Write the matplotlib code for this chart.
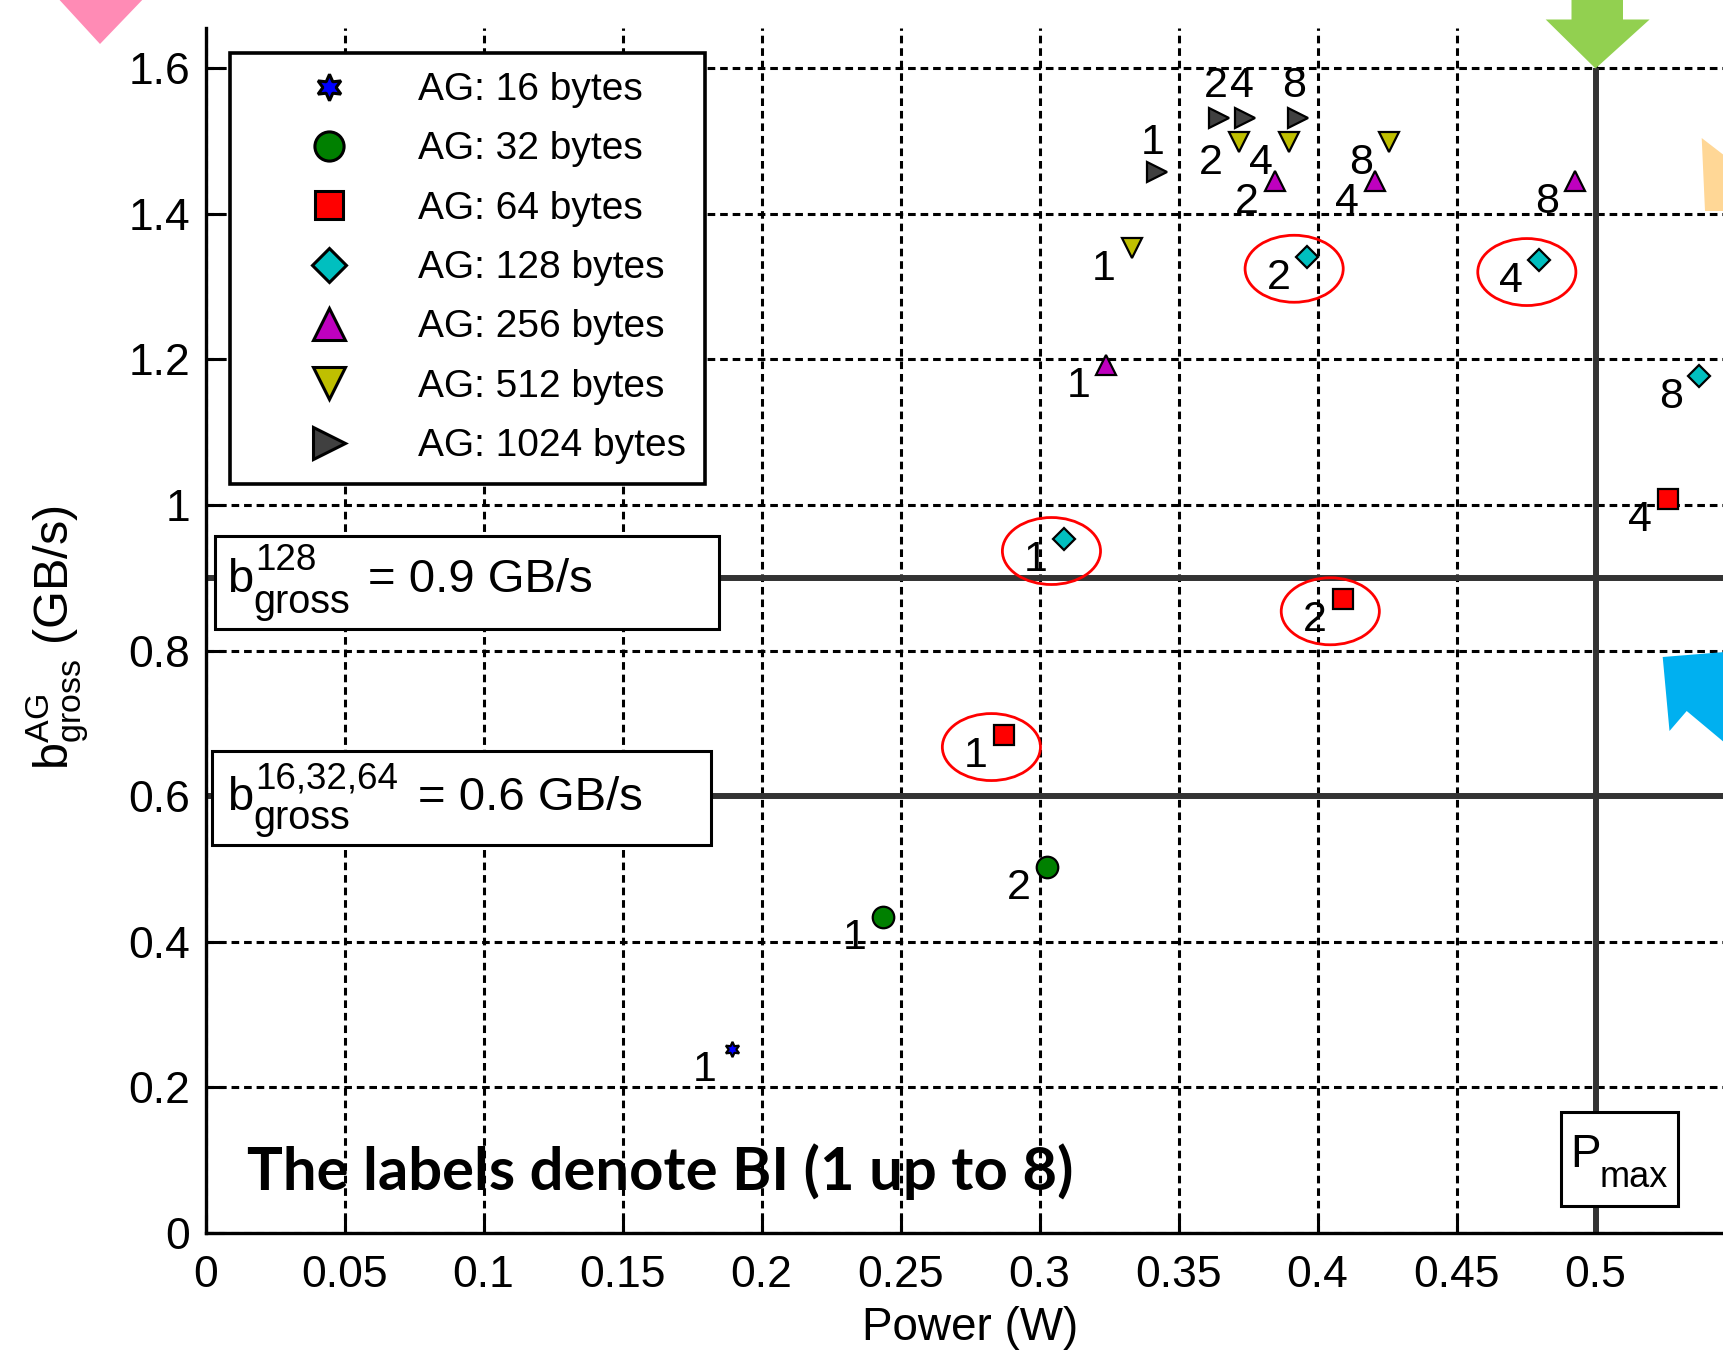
import matplotlib
matplotlib.use('Agg')
import matplotlib.pyplot as plt
from matplotlib.lines import Line2D
from matplotlib.patches import Rectangle, Ellipse, Polygon
import numpy as np

# ---------------- data ----------------
series_names = ['AG: 16 bytes', 'AG: 32 bytes', 'AG: 64 bytes', 'AG: 128 bytes',
                'AG: 256 bytes', 'AG: 512 bytes', 'AG: 1024 bytes']

ag16_power = [0.1895]
ag16_bw = [0.2523]
ag16_bi = [1]

ag32_power = [0.2436, 0.3026]
ag32_bw = [0.4336, 0.5023]
ag32_bi = [1, 2]

ag64_power = [0.2872, 0.4091, 0.5260]
ag64_bw = [0.684, 0.8705, 1.008]
ag64_bi = [1, 2, 4]

ag128_power = [0.3088, 0.3961, 0.4798, 0.5373]
ag128_bw = [0.9533, 1.341, 1.3365, 1.177]
ag128_bi = [1, 2, 4, 8]

ag256_power = [0.3241, 0.3848, 0.4207, 0.4925]
ag256_bw = [1.1925, 1.4446, 1.4446, 1.4446]
ag256_bi = [1, 2, 4, 8]

ag512_power = [0.3331, 0.3717, 0.3898, 0.4257]
ag512_bw = [1.3526, 1.499, 1.499, 1.499]
ag512_bi = [1, 2, 4, 8]

ag1024_power = [0.3424, 0.3647, 0.3741, 0.3930]
ag1024_bw = [1.458, 1.531, 1.531, 1.531]
ag1024_bi = [1, 2, 4, 8]

# highlighted (series index, BI) pairs, circled in red
highlighted = [(3, 1), (3, 2), (3, 4), (2, 1), (2, 2)]

b128_threshold = 0.9
b_small_threshold = 0.6
p_max = 0.5

x_ticks = [0, 0.05, 0.1, 0.15, 0.2, 0.25, 0.3, 0.35, 0.4, 0.45, 0.5]
x_tick_labels = ['0', '0.05', '0.1', '0.15', '0.2', '0.25', '0.3', '0.35', '0.4', '0.45', '0.5']
y_ticks = [0, 0.2, 0.4, 0.6, 0.8, 1.0, 1.2, 1.4, 1.6]
y_tick_labels = ['0', '0.2', '0.4', '0.6', '0.8', '1', '1.2', '1.4', '1.6']

# ---------------- style ----------------
plt.rcParams['font.family'] = ['Liberation Sans', 'DejaVu Sans']
plt.rcParams['mathtext.fontset'] = 'custom'
plt.rcParams['mathtext.rm'] = 'Liberation Sans'
plt.rcParams['mathtext.it'] = 'Liberation Sans'
plt.rcParams['mathtext.bf'] = 'Liberation Sans:bold'

W, H = 1723, 1355
fig = plt.figure(figsize=(W / 100, H / 100), dpi=100)
PT = 0.72  # points per pixel at dpi 100

def fx(px):
    return px / W

def fy(py):
    return 1 - py / H

X0, Y0 = 205.5, 1233.0
PX_PER_X, PX_PER_Y = 2780.0, 728.0
xlim = (0, 0.55)
ylim = (0, 1.655)
ax = fig.add_axes([fx(X0), fy(Y0), xlim[1] * PX_PER_X / W, ylim[1] * PX_PER_Y / H])
ax.set_xlim(*xlim)
ax.set_ylim(*ylim)

ax.set_xticks(x_ticks)
ax.set_xticklabels(x_tick_labels)
ax.set_yticks(y_ticks)
ax.set_yticklabels(y_tick_labels)
ax.tick_params(direction='in', length=13, width=2.2, labelsize=32, color='black')
ax.tick_params(axis='x', pad=16)
ax.tick_params(axis='y', pad=11)
ax.grid(True, color='black', linestyle=(0, (2.5, 1.6)), linewidth=2.2, zorder=0)
ax.set_axisbelow(True)
for s in ['top', 'right']:
    ax.spines[s].set_visible(False)
for s in ['left', 'bottom']:
    ax.spines[s].set_linewidth(2.4)
    ax.spines[s].set_color('black')

ax.set_xlabel('Power (W)', fontsize=33)
ax.xaxis.set_label_coords(0.5, -0.0605)
ax.set_ylabel(r'$\mathregular{b^{AG}_{gross}}$ (GB/s)', fontsize=35, va='center')
ax.yaxis.set_label_coords(-0.097, 0.494)

# reference lines
line_col = '#333333'
ax.axhline(b128_threshold, color=line_col, lw=4.3, zorder=2)
ax.axhline(b_small_threshold, color=line_col, lw=4.3, zorder=2)
ax.vlines(p_max, 0, 1.6, color=line_col, lw=4.3, zorder=2)

# series definitions
series = [
    (ag16_power, ag16_bw, ag16_bi, (6, 1, 0), (0, 0, 1), 11, 19),
    (ag32_power, ag32_bw, ag32_bi, 'o', (0, 0.5, 0), 15.5, 21),
    (ag64_power, ag64_bw, ag64_bi, 's', (1, 0, 0), 14.5, 20),
    (ag128_power, ag128_bw, ag128_bi, 'D', (0, 0.75, 0.75), 10.8, 17),
    (ag256_power, ag256_bw, ag256_bi, '^', (0.75, 0, 0.75), 15, 23),
    (ag512_power, ag512_bw, ag512_bi, 'v', (0.75, 0.75, 0), 15, 23),
    (ag1024_power, ag1024_bw, ag1024_bi, '>', (0.25, 0.25, 0.25), 15, 23),
]

handles = []
for i, (px_, by_, bi_, mk, col, ms, lms) in enumerate(series):
    ax.plot(px_, by_, linestyle='none', marker=mk, markersize=ms,
            markerfacecolor=col, markeredgecolor='black', markeredgewidth=1.6, zorder=6)
    handles.append(Line2D([], [], linestyle='none', marker=mk, markersize=lms,
                          markerfacecolor=col, markeredgecolor='black', markeredgewidth=2.2,
                          label=series_names[i]))
    for xv, yv, b in zip(px_, by_, bi_):
        if i == 6:
            if b == 1:
                off, ha = (-5 * PT, 18 * PT), 'center'
            else:
                off, ha = (-4 * PT, 21 * PT), 'center'
        else:
            off, ha = (-16 * PT, -32 * PT), 'right'
        ax.annotate(str(b), xy=(xv, yv), xytext=off, textcoords='offset points',
                    ha=ha, va='baseline', fontsize=31, zorder=7)

# red ellipses around highlighted points
for si, b in highlighted:
    px_, by_, bi_ = series[si][0], series[si][1], series[si][2]
    k = bi_.index(b)
    ax.add_patch(Ellipse((px_[k] - 0.0045, by_[k] - 0.0165), width=0.0353, height=0.092,
                         facecolor='none', edgecolor='red', lw=2.0, zorder=8))

# legend
leg = ax.legend(handles=handles, loc='upper left',
                bbox_to_anchor=(fx(229.7), fy(52.7)), bbox_transform=fig.transFigure,
                borderaxespad=0, fontsize=28, borderpad=0.5, handlelength=4.1,
                handletextpad=0.23, labelspacing=0.6, fancybox=False, framealpha=1,
                edgecolor='black')
leg.get_frame().set_linewidth(2.6)
leg.set_zorder(10)

# threshold annotation boxes
def thr_box(thr, x_left_px, x_right_px, top_px, bot_px, sup, eq_dx, sup_dy, sub_dy, val_text):
    ax.add_patch(Rectangle(((x_left_px - X0) / PX_PER_X, (Y0 - bot_px) / PX_PER_Y),
                           (x_right_px - x_left_px) / PX_PER_X, (bot_px - top_px) / PX_PER_Y,
                           facecolor='white', edgecolor='black', lw=2.2, zorder=4))
    kw = dict(xy=(0, thr), textcoords='offset points', va='baseline', ha='left', zorder=5)
    ax.annotate('b', xytext=(22 * PT, -14 * PT), fontsize=34, **kw)
    ax.annotate(sup, xytext=(50 * PT, sup_dy * PT), fontsize=26.5, **kw)
    ax.annotate('gross', xytext=(48 * PT, sub_dy * PT), fontsize=28.5, **kw)
    ax.annotate(val_text, xytext=(eq_dx * PT, -14 * PT), fontsize=34, **kw)

thr_box(b128_threshold, 215, 719, 536, 629, '128', 162, 8.3, -35, '= %.1f GB/s' % b128_threshold)
thr_box(b_small_threshold, 212, 711, 750.6, 845, '16,32,64', 212, 7.7, -33, '= %.1f GB/s' % b_small_threshold)

# P_max box
ax.add_patch(Rectangle(((1560.5 - X0) / PX_PER_X, (Y0 - 1205.5) / PX_PER_Y),
                       (1678 - 1560.5) / PX_PER_X, (1205.5 - 1112) / PX_PER_Y,
                       facecolor='white', edgecolor='black', lw=2.2, zorder=4))
ax.annotate('P', xy=(p_max, 0), xytext=(-25 * PT, 66 * PT), textcoords='offset points',
            ha='left', va='baseline', fontsize=33, zorder=5)
ax.annotate('max', xy=(p_max, 0), xytext=(4 * PT, 46 * PT), textcoords='offset points',
            ha='left', va='baseline', fontsize=26, zorder=5)

# bold note
ax.text((247 - X0) / (xlim[1] * PX_PER_X), (Y0 - 1190) / (ylim[1] * PX_PER_Y),
        'The labels denote BI (1 up to 8)', transform=ax.transAxes,
        fontsize=43, fontweight='bold', family=['Lato', 'DejaVu Sans'],
        ha='left', va='baseline', zorder=5)

# decorative slide arrows (partially visible)
def fig_poly(pts, color):
    p = Polygon([(fx(a), fy(b)) for a, b in pts], closed=True, transform=fig.transFigure,
                facecolor=color, edgecolor='none', zorder=20)
    fig.patches.append(p)

fig_poly([(55, -5), (147, -5), (100, 44)], '#FF8BB5')
fig_poly([(1571.5, -5), (1623, -5), (1623, 19.5), (1649.6, 19.5), (1595.5, 68.5),
          (1545.7, 19.5), (1571.5, 19.5)], '#92D050')
fig_poly([(1701.7, 138), (1725, 156), (1725, 211), (1705, 211)], '#FFD796')
fig_poly([(1662.7, 657), (1725, 652), (1725, 743), (1686.7, 711), (1669.5, 731)], '#00B0F0')

fig.savefig('out.png', dpi=100)
